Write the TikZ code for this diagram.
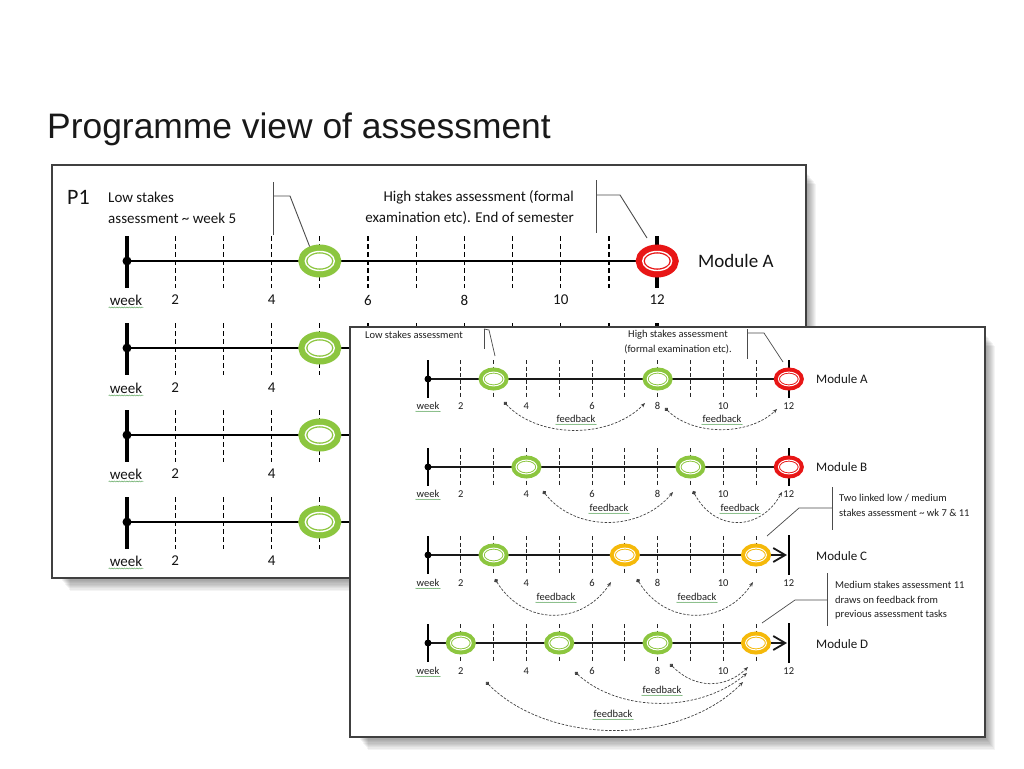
\documentclass[tikz,border=0pt]{standalone}
\usepackage{fontspec}
\setmainfont{Carlito}
\newfontfamily\titlefont{Liberation Sans}
\usetikzlibrary{arrows.meta,shapes.geometric,decorations.pathmorphing}
\definecolor{ringgreen}{RGB}{140,198,63}
\definecolor{ringred}{RGB}{232,22,22}
\definecolor{ringorange}{RGB}{245,185,10}
\definecolor{spellgreen}{RGB}{100,170,100}
\newcommand\panelshadow[4]{\foreach \k in {1,...,10}{\fill[black, opacity=0.045] ({#1+8+1.0*\k},{#2+6+1.3*\k}) rectangle ({#3+1.0*\k},{#4+1.3*\k});}}
\newcommand\bigring[4]{\node[bring=#4] (#1) at (#2,#3) {};\draw[white, line width=1.4pt] (#1.center) ellipse [x radius=14.5pt, y radius=9.5pt];}
\newcommand\smallring[4]{\node[fring=#4] (#1) at (#2,#3) {};\draw[white, line width=1pt] (#1.center) ellipse [x radius=10.4pt, y radius=6.9pt];}
\begin{document}
\begin{tikzpicture}[x=1pt,y=-1pt,
  btick/.style={line width=1.1pt, dash pattern=on 5pt off 3pt, black},
  ftick/.style={line width=0.9pt, dash pattern=on 4pt off 2.5pt, black!85},
  bbar/.style={line width=3.5pt, black},
  fbar/.style={line width=2.5pt, black},
  bline/.style={line width=2.6pt, black},
  fline/.style={line width=1.8pt, black!90},
  bdot/.style={circle, fill=black, inner sep=0pt, minimum size=9pt},
  fdot/.style={circle, fill=black, inner sep=0pt, minimum size=7pt},
  bring/.style={ellipse, fill=white, draw=#1, line width=9pt, minimum width=34pt, minimum height=24pt, inner sep=0pt},
  fring/.style={ellipse, fill=white, draw=#1, line width=6pt, minimum width=24pt, minimum height=17pt, inner sep=0pt},
  btext/.style={font=\fontsize{15}{21}\selectfont, text=black!92, inner sep=1pt},
  ftext/.style={font=\fontsize{10.5}{14.5}\selectfont, text=black!88, inner sep=1pt},
  fmod/.style={font=\fontsize{13}{15}\selectfont, text=black!90, anchor=west, inner sep=0pt},
  callout/.style={line width=0.9pt, black!70},
  fb/.style={line width=0.7pt, black!75, dash pattern=on 2.5pt off 1.5pt, {Circle[length=4pt]}-{Stealth[length=4.5pt, width=3.5pt]}},
  spell/.style={draw=spellgreen, line width=0.5pt, decorate, decoration={snake, amplitude=0.5pt, segment length=2.5pt}},
  panel/.style={fill=white, draw=black!75, line width=1.3pt},
]
\useasboundingbox (0,0) rectangle (1024,768);
\fill[white] (0,0) rectangle (1024,768);

% title
\node[anchor=base west, inner sep=0pt, font=\titlefont\fontsize{35.4}{40}\selectfont, text=black!90] (title) at (47,138) {Programme view of assessment};

% ================= back panel =================
\panelshadow{52}{165}{806}{578}
\draw[panel, line width=1.2pt] (52,165) rectangle (806,578);

\node[btext, anchor=west, inner sep=0pt] (p1) at (67,197) {\fontsize{22}{24}\selectfont P1};
\node[btext, anchor=west, align=left] (lowb) at (107,207.5) {Low stakes\\assessment \textasciitilde{} week 5};
\node[btext, anchor=east, align=right] (highb) at (575,207.5) {High stakes assessment (formal\\examination etc). End of semester};

% row 1
\foreach \w in {2,...,11} \draw[btick] ({127+(\w-1)*48.2},236) -- ++(0,52);
\draw[bbar] (127,236) -- (127,288);
\draw[bbar] (657.2,236) -- (657.2,288);
\coordinate (b1s) at (127,261); \coordinate (b1e) at (657.2,261);
\draw[bline] (b1s) -- (b1e);
\node[bdot] (b1d) at (b1s) {};
\bigring{b1r5}{319.8}{261}{ringgreen}
\bigring{b1r12}{657.2}{261}{ringred}
\node[btext, anchor=west] (bmodA) at (697,261) {\fontsize{19}{22}\selectfont Module A};

% back callouts
\coordinate (bc1t) at (273,182); \coordinate (bc1b) at (273,235); \coordinate (bc1k) at (290,196);
\draw[callout] (bc1t) -- (bc1b);
\draw[callout] (273,196) -- (bc1k) -- (b1r5.125);
\coordinate (bc2t) at (596,180); \coordinate (bc2b) at (596,233); \coordinate (bc2k) at (620,195);
\coordinate (bc2e) at (647,238);
\draw[callout] (bc2t) -- (bc2b);
\draw[callout] (596,195) -- (bc2k) -- (bc2e);

% row 2
\foreach \w in {2,...,11} \draw[btick] ({127+(\w-1)*48.2},323) -- ++(0,52);
\draw[bbar] (127,323) -- (127,375);
\draw[bbar] (657.2,323) -- (657.2,375);
\coordinate (b2s) at (127,348); \coordinate (b2e) at (657,348);
\draw[bline] (b2s) -- (b2e);
\node[bdot] (b2d) at (b2s) {};
\bigring{b2r5}{319.8}{348}{ringgreen}
% row 3
\foreach \w in {2,...,5} \draw[btick] ({127+(\w-1)*48.2},410) -- ++(0,52);
\draw[bbar] (127,410) -- (127,462);
\coordinate (b3s) at (127,435); \coordinate (b3e) at (360,435);
\draw[bline] (b3s) -- (b3e);
\node[bdot] (b3d) at (b3s) {};
\bigring{b3r5}{319.8}{435}{ringgreen}
% row 4
\foreach \w in {2,...,5} \draw[btick] ({127+(\w-1)*48.2},497) -- ++(0,52);
\draw[bbar] (127,497) -- (127,549);
\coordinate (b4s) at (127,522); \coordinate (b4e) at (360,522);
\draw[bline] (b4s) -- (b4e);
\node[bdot] (b4d) at (b4s) {};
\bigring{b4r5}{319.8}{522}{ringgreen}

% back labels
\foreach \r/\yy in {1/300,2/388,3/474,4/561}{
  \node[btext] (bw\r) at (126,\yy) {week};
  \draw[spell] ([yshift=-1pt]bw\r.south west) -- ([yshift=-1pt]bw\r.south east);
  \foreach \n in {2,4} \node[btext] (bl\r-\n) at ({127+(\n-1)*48.2},\yy) {\n};
}
\foreach \n in {6,8,10,12} \node[btext] (bl1-\n) at ({127+(\n-1)*48.2},300) {\n};

% ================= front panel =================
\panelshadow{350}{327}{985}{737}
\draw[panel] (350,327) rectangle (985,737);

\node[ftext, anchor=west] (flow) at (364,335) {Low stakes assessment};
\coordinate (fc1t) at (484,329); \coordinate (fc1b) at (484,349); \coordinate (fc1e) at (495,356);
\draw[callout, line width=0.7pt] (fc1t) -- (fc1b);
\draw[callout, line width=0.7pt] (fc1t) -- (489,330) -- (fc1e);
\node[ftext, align=center] (fhigh) at (678,342) {High stakes assessment\\(formal examination etc).};
\coordinate (fc2t) at (747,329); \coordinate (fc2b) at (747,359); \coordinate (fc2k) at (764,333); \coordinate (fc2e) at (783,362);
\draw[callout, line width=0.7pt] (fc2t) -- (fc2b);
\draw[callout, line width=0.7pt] (747,333) -- (fc2k) -- (fc2e);

% front timelines: ticks
\foreach \yy in {379,467,555,643}{
  \foreach \w in {2,...,11} \draw[ftick] ({428+(\w-1)*32.8},{\yy-19}) -- ++(0,38);
  \draw[fbar] (428,{\yy-19}) -- ++(0,38);
}
\draw[fbar] (788.8,360) -- ++(0,38);
\draw[fbar] (788.8,448) -- ++(0,38);
\draw[fbar] (789,535) -- ++(0,40);
\draw[fbar] (789,623) -- ++(0,40);

% row A
\coordinate (fAs) at (428,379); \coordinate (fAe) at (788.8,379);
\draw[fline] (fAs) -- (fAe);
\node[fdot] (fAd) at (fAs) {};
\smallring{fA3}{493.6}{379}{ringgreen}
\smallring{fA8}{657.6}{379}{ringgreen}
\smallring{fA12}{788.8}{379}{ringred}
% row B
\coordinate (fBs) at (428,467); \coordinate (fBe) at (788.8,467);
\draw[fline] (fBs) -- (fBe);
\node[fdot] (fBd) at (fBs) {};
\smallring{fB4}{526.4}{467}{ringgreen}
\smallring{fB9}{690.4}{467}{ringgreen}
\smallring{fB12}{788.8}{467}{ringred}
% row C
\coordinate (fCs) at (428,555); \coordinate (fCe) at (787,555);
\draw[fline, -{Straight Barb[length=12pt, width=14pt, line width=1.8pt]}] (fCs) -- (fCe);
\node[fdot] (fCd) at (fCs) {};
\smallring{fC3}{493.6}{555}{ringgreen}
\smallring{fC7}{624.8}{555}{ringorange}
\smallring{fC11}{756}{555}{ringorange}
% row D
\coordinate (fDs) at (428,643); \coordinate (fDe) at (787,643);
\draw[fline, -{Straight Barb[length=12pt, width=14pt, line width=1.8pt]}] (fDs) -- (fDe);
\node[fdot] (fDd) at (fDs) {};
\smallring{fD2}{460.8}{643}{ringgreen}
\smallring{fD5}{559.2}{643}{ringgreen}
\smallring{fD8}{657.6}{643}{ringgreen}
\smallring{fD11}{756}{643}{ringorange}

% module labels
\node[fmod] (fmA) at (816,379) {Module A};
\node[fmod] (fmB) at (816,467) {Module B};
\node[fmod] (fmC) at (816,556) {Module C};
\node[fmod] (fmD) at (816,644) {Module D};

% front labels
\foreach \r/\yy in {A/406,B/494,C/583,D/671}{
  \node[ftext] (fw\r) at (428,\yy) {week};
  \draw[spell, decoration={snake, amplitude=0.3pt, segment length=2pt}] ([yshift=-0.5pt]fw\r.south west) -- ([yshift=-0.5pt]fw\r.south east);
  \foreach \n in {2,4,...,12} \node[ftext] (fl\r-\n) at ({428+(\n-1)*32.8},\yy) {\n};
}

% feedback arrows
\coordinate (fbA1s) at (504,402); \coordinate (fbA1e) at (645,403);
\draw[fb] (fbA1s) .. controls (539,439) and (610,439) .. (fbA1e);
\coordinate (fbA2s) at (665,408); \coordinate (fbA2e) at (777,409);
\draw[fb] (fbA2s) .. controls (693,436) and (749,436) .. (fbA2e);
\coordinate (fbB1s) at (543,491); \coordinate (fbB1e) at (673,492);
\draw[fb] (fbB1s) .. controls (575,532) and (640,532) .. (fbB1e);
\coordinate (fbB2s) at (693,491); \coordinate (fbB2e) at (782,492);
\draw[fb] (fbB2s) .. controls (715,532) and (760,532) .. (fbB2e);
\coordinate (fbC1s) at (495,579); \coordinate (fbC1e) at (611,582);
\draw[fb] (fbC1s) .. controls (524,626) and (582,626) .. (fbC1e);
\coordinate (fbC2s) at (637,579); \coordinate (fbC2e) at (753,582);
\draw[fb] (fbC2s) .. controls (666,626) and (724,626) .. (fbC2e);
\coordinate (fbD1s) at (670,664); \coordinate (fbD1e) at (748,667);
\draw[fb] (fbD1s) .. controls (695,689) and (725,689) .. (fbD1e);
\coordinate (fbD2s) at (575,672); \coordinate (fbD2e) at (747,673);
\draw[fb] (fbD2s) .. controls (620,713) and (700,713) .. (fbD2e);
\coordinate (fbD3s) at (486,682); \coordinate (fbD3e) at (743,682);
\draw[fb] (fbD3s) .. controls (550,746) and (680,746) .. (fbD3e);

\foreach \nm/\xx/\yy in {A1/576/419,A2/722/419,B1/609/508,B2/740/508,C1/556/597,C2/697/597,D2/662/690,D3/613/714}{
  \node[ftext] (fbl\nm) at (\xx,\yy) {feedback};
  \draw[spell, decoration={snake, amplitude=0.3pt, segment length=2pt}] ([yshift=-0.5pt]fbl\nm.south west) -- ([yshift=-0.5pt]fbl\nm.south east);
}

% right callouts
\coordinate (fc3t) at (832,487); \coordinate (fc3b) at (832,530); \coordinate (fc3k) at (799,508); \coordinate (fc3e) at (767,536);
\draw[callout, line width=0.7pt] (fc3t) -- (fc3b);
\draw[callout, line width=0.7pt] (832,508) -- (fc3k) -- (fc3e);
\node[ftext, anchor=west, align=left] (ftwo) at (838,505.5) {Two linked low / medium\\stakes assessment \textasciitilde{} wk 7 \& 11};
\coordinate (fc4t) at (827,573); \coordinate (fc4b) at (827,626); \coordinate (fc4k) at (795,600); \coordinate (fc4e) at (762,623);
\draw[callout, line width=0.7pt] (fc4t) -- (fc4b);
\draw[callout, line width=0.7pt] (827,600) -- (fc4k) -- (fc4e);
\node[ftext, anchor=west, align=left] (fmed) at (834,600.5) {Medium stakes assessment 11\\draws on feedback from\\previous assessment tasks};
\end{tikzpicture}
\end{document}
